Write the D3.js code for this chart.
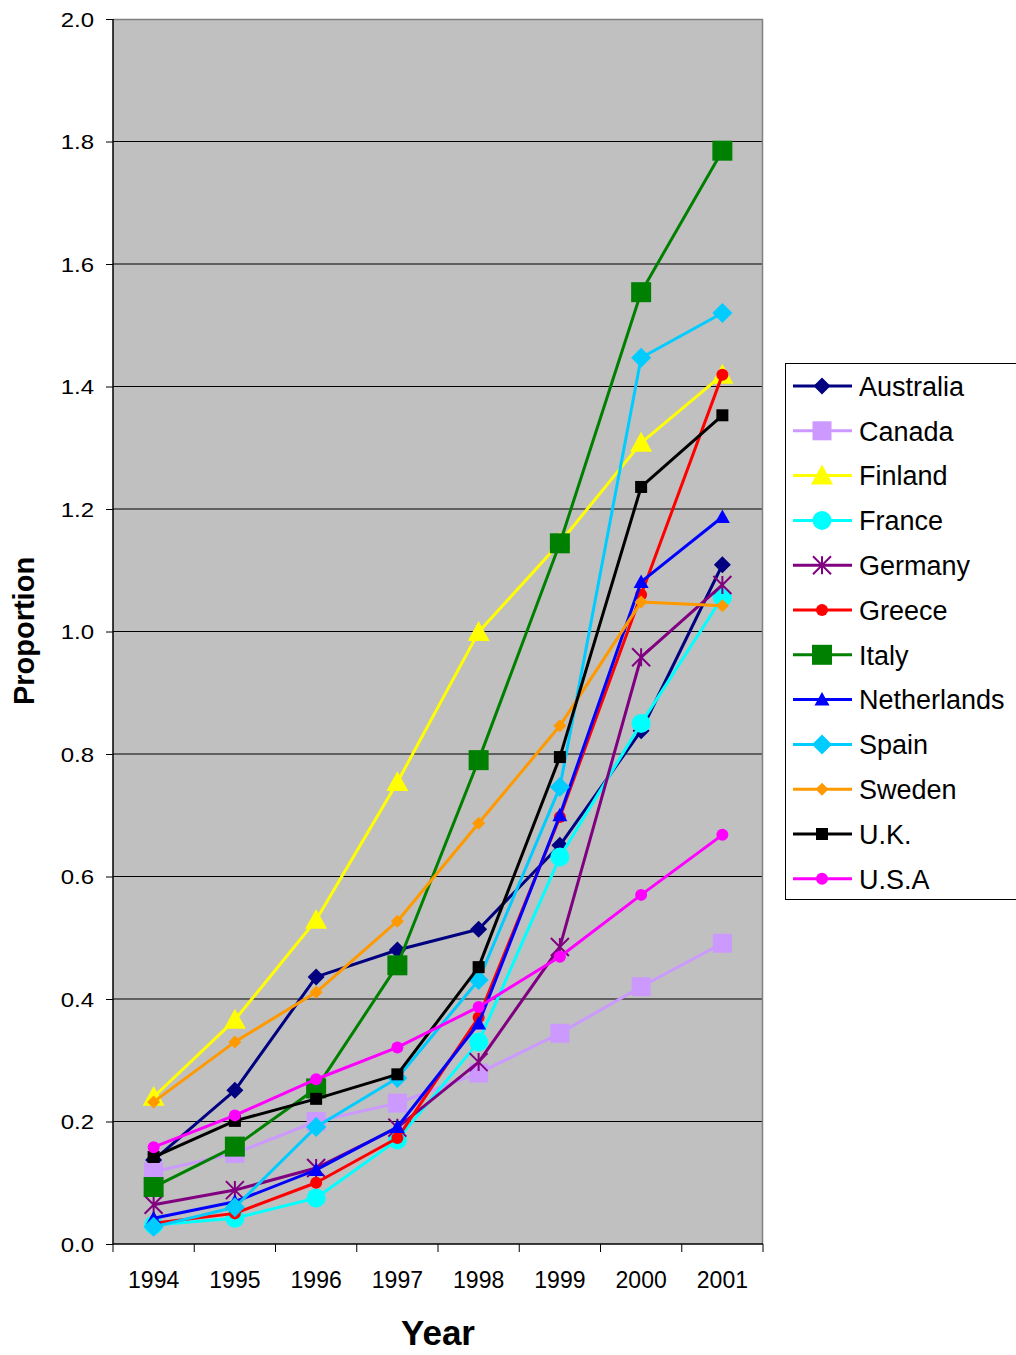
<!DOCTYPE html>
<html><head><meta charset="utf-8">
<script src="https://cdn.jsdelivr.net/npm/d3@7"></script>
<style>body{margin:0;background:#fff;}svg{display:block;font-family:"Liberation Sans",Arial,sans-serif;}</style>
</head><body><svg id="c" width="1016" height="1355"></svg>
<script>
const years = ["1994","1995","1996","1997","1998","1999","2000","2001"];
const yTicks = [0,0.2,0.4,0.6,0.8,1.0,1.2,1.4,1.6,1.8,2.0];
const australia   = [0.137,0.251,0.436,0.480,0.514,0.651,0.838,1.109];
const canada      = [0.118,0.148,0.200,0.230,0.279,0.344,0.420,0.491];
const finland     = [0.240,0.366,0.529,0.754,0.999,1.145,1.308,1.419];
const france      = [0.031,0.042,0.075,0.170,0.330,0.632,0.850,1.056];
const germany     = [0.064,0.088,0.124,0.190,0.297,0.485,0.958,1.076];
const greece      = [0.034,0.050,0.100,0.173,0.370,0.697,1.060,1.419];
const italy       = [0.093,0.159,0.254,0.455,0.790,1.144,1.554,1.785];
const netherlands = [0.042,0.069,0.121,0.191,0.360,0.700,1.081,1.187];
const spain       = [0.028,0.060,0.191,0.271,0.431,0.746,1.447,1.520];
const sweden      = [0.232,0.330,0.411,0.527,0.687,0.846,1.048,1.042];
const uk          = [0.142,0.201,0.237,0.277,0.452,0.795,1.236,1.353];
const usa         = [0.158,0.210,0.269,0.321,0.387,0.469,0.570,0.668];

const series = [
  {name:"Australia", values:australia, color:"#000080", marker:"diamond", size:8.5},
  {name:"Canada", values:canada, color:"#CC99FF", marker:"square", size:9.5},
  {name:"Finland", values:finland, color:"#FFFF00", marker:"triangle", size:11},
  {name:"France", values:france, color:"#00FFFF", marker:"circle", size:9.5},
  {name:"Germany", values:germany, color:"#800080", marker:"star", size:9},
  {name:"Greece", values:greece, color:"#FF0000", marker:"circle", size:6},
  {name:"Italy", values:italy, color:"#008000", marker:"square", size:10},
  {name:"Netherlands", values:netherlands, color:"#0000FF", marker:"triangle", size:7.5},
  {name:"Spain", values:spain, color:"#00CCFF", marker:"diamond", size:10},
  {name:"Sweden", values:sweden, color:"#FF9900", marker:"diamond", size:6.5},
  {name:"U.K.", values:uk, color:"#000000", marker:"square", size:6},
  {name:"U.S.A", values:usa, color:"#FF00FF", marker:"circle", size:6}
];

const svg = d3.select("#c");
const L=113, R=763, T=19, B=1244;
const x = d3.scaleBand().domain(years).range([L,R]).padding(0);
const y = d3.scaleLinear().domain([0,2]).range([B,T]);
const cx = d => x(d)+x.bandwidth()/2;

svg.append("rect").attr("x",L).attr("y",T).attr("width",R-L).attr("height",B-T).attr("fill","#C0C0C0");
svg.append("g").selectAll("line").data(yTicks.filter(t=>t>0&&t<2)).join("line")
  .attr("x1",L).attr("x2",R).attr("y1",d=>y(d)).attr("y2",d=>y(d)).attr("stroke","#000").attr("stroke-width",1);
svg.append("path").attr("d",`M${L},${T+0.5}H${R-0.5}V${B}`).attr("fill","none").attr("stroke","#808080").attr("stroke-width",1.5);

const yAxis = svg.append("g").attr("transform",`translate(${L},0)`)
  .call(d3.axisLeft(y).tickValues(yTicks).tickSize(7).tickPadding(0).tickFormat(d3.format(".1f")));
yAxis.select(".domain").attr("stroke","#000").attr("stroke-width",1.5).attr("d",`M0,${T}V${B}`);
yAxis.selectAll("text").attr("font-size",20).attr("fill","#000").attr("dy","0.35em")
  .attr("x",0).attr("text-anchor","end")
  .attr("transform","translate(-19,0) scale(1.2,1)");

const xAxis = svg.append("g").attr("transform",`translate(0,${B})`)
  .call(d3.axisBottom(x).tickSize(0).tickPadding(0));
xAxis.select(".domain").attr("stroke","#000").attr("stroke-width",1.5).attr("d",`M${L},0H${R}`);
xAxis.selectAll("text").attr("font-size",23).attr("fill","#000").attr("y",44).attr("dy",0);
svg.append("g").selectAll("line").data(d3.range(years.length+1)).join("line")
  .attr("x1",i=>L+i*x.bandwidth()).attr("x2",i=>L+i*x.bandwidth())
  .attr("y1",B).attr("y2",B+8).attr("stroke","#000").attr("stroke-width",1);

svg.append("text").attr("transform","translate(34,631) rotate(-90)").attr("text-anchor","middle")
  .attr("font-size",29).attr("font-weight","bold").text("Proportion");
svg.append("text").attr("x",438).attr("y",1345).attr("text-anchor","middle")
  .attr("font-size",35).attr("font-weight","bold").text("Year");

function markerPath(type,s){
  switch(type){
    case "diamond": return `M0,${-s}L${s},0L0,${s}L${-s},0Z`;
    case "square": return `M${-s},${-s}H${s}V${s}H${-s}Z`;
    case "triangle": return `M0,${-s}L${s},${s*0.8}L${-s},${s*0.8}Z`;
    case "circle": return `M${-s},0A${s},${s} 0 1,0 ${s},0A${s},${s} 0 1,0 ${-s},0Z`;
    case "star": return `M${-s},${-s}L${s},${s}M${-s},${s}L${s},${-s}M0,${-s}V${s}`;
  }
}
function drawMarker(g,sr){
  const p = g.append("path").attr("d",markerPath(sr.marker,sr.size));
  if(sr.marker==="star") p.attr("fill","none").attr("stroke",sr.color).attr("stroke-width",2);
  else p.attr("fill",sr.color);
  return p;
}

const line = d3.line().x((d,i)=>cx(years[i])).y(d=>y(d));
series.forEach(sr=>{
  const g = svg.append("g");
  g.append("path").attr("d",line(sr.values)).attr("fill","none").attr("stroke",sr.color).attr("stroke-width",3).attr("stroke-linejoin","round");
  sr.values.forEach((v,i)=>{
    const mg = g.append("g").attr("transform",`translate(${cx(years[i])},${y(v)})`);
    drawMarker(mg,sr);
  });
});

const lg = svg.append("g");
lg.append("rect").attr("x",785.5).attr("y",363.5).attr("width",240).attr("height",536).attr("fill","#fff").attr("stroke","#000").attr("stroke-width",1);
series.forEach((sr,i)=>{
  const yy = 386 + i*44.8;
  const g = lg.append("g");
  g.append("line").attr("x1",793).attr("x2",852).attr("y1",yy).attr("y2",yy).attr("stroke",sr.color).attr("stroke-width",3);
  drawMarker(g.append("g").attr("transform",`translate(822,${yy})`),sr);
  g.append("text").attr("x",859).attr("y",yy).attr("dy","0.36em").attr("font-size",27).attr("fill","#000").text(sr.name);
});
</script></body></html>
